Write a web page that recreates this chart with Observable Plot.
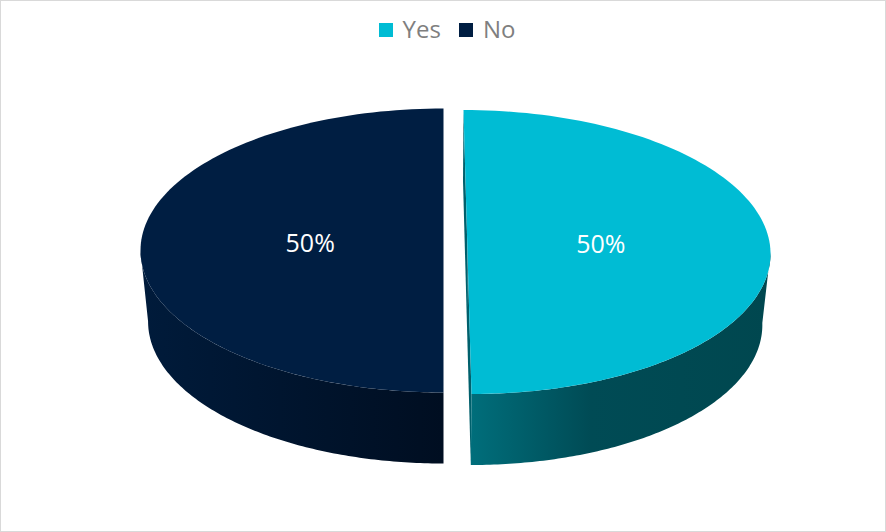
<!DOCTYPE html>
<html><head><meta charset="utf-8">
<script src="https://cdn.jsdelivr.net/npm/d3@7"></script>
<script src="https://cdn.jsdelivr.net/npm/@observablehq/plot@0.6"></script>
<style>
html,body{margin:0;padding:0;background:#fff;}
#wrap{position:relative;width:886px;height:532px;overflow:hidden;background:#fff;}
#frame{position:absolute;left:0;top:0;width:886px;height:532px;box-sizing:border-box;border:1px solid #d9d9d9;pointer-events:none;}
#legend{height:60px;display:flex;justify-content:center;align-items:center;padding-left:8px;padding-bottom:4px;box-sizing:border-box;font-family:"Open Sans",sans-serif;font-size:24px;color:#7f7f7f;}
.item{display:flex;align-items:center;margin:0 9px;}
.sw{width:14px;height:14px;margin-right:10px;position:relative;top:2px;}
#chart svg{display:block;}
</style></head><body>
<div id="wrap"><div id="legend"></div><div id="chart"></div><div id="frame"></div></div>
<script>
// ---- data ----
const categories = ["Yes", "No"];
const values = [50, 50];
const explodedCategory = "Yes";

// ---- styles ----
const topColors = ["#00BCD4", "#001E42"];
const cutColors = ["#00606C", "#000F24"];
const sideStops = [
  [[0, "#006E7B"], [0.4, "#004B55"], [1, "#00474F"]],
  [[0, "#001B3B"], [1, "#000E21"]]
];

// ---- legend ----
const legend = document.getElementById("legend");
categories.forEach((c, i) => {
  const it = document.createElement("div"); it.className = "item";
  const sw = document.createElement("div"); sw.className = "sw"; sw.style.background = topColors[i];
  const tx = document.createElement("span"); tx.textContent = c;
  it.appendChild(sw); it.appendChild(tx); legend.appendChild(it);
});

// ---- geometry (layout) ----
const W = 886, H = 472;
const cx = 443, cy = 190, rx = 303, ry = 142, depth = 71, bottomShrink = 0.975;
const explodeOffset = {dx0: 24, dx1: 4, dy: 1.5};
const noOffset = {dx0: 0, dx1: 0, dy: 0};

function proj(u, v, w, ex) {
  return {
    X: (u * rx + ex.dx0 + ex.dx1 * v) * (1 - (1 - bottomShrink) * w) / rx,
    Y: (v * ry + ex.dy + depth * w) / ry
  };
}
function arc(a0, a1, w, ex, n = 120) {
  const pts = [];
  for (let k = 0; k <= n; k++) {
    const t = a0 + (a1 - a0) * k / n;
    pts.push(proj(Math.sin(t), -Math.cos(t), w, ex));
  }
  return pts;
}

const total = d3.sum(values);
let acc = 0;
const slices = categories.map((c, i) => {
  const a0 = acc / total * 2 * Math.PI; acc += values[i];
  const a1 = acc / total * 2 * Math.PI;
  return {c, i, value: values[i], a0, a1, ex: c === explodedCategory ? explodeOffset : noOffset};
});

const marks = [];
// gradient defs
marks.push(() => {
  const defs = d3.create("svg:defs");
  sideStops.forEach((stops, i) => {
    const g = defs.append("linearGradient").attr("id", "side" + i)
      .attr("x1", 0).attr("x2", 1).attr("y1", 0).attr("y2", 0);
    stops.forEach(([o, col]) => g.append("stop").attr("offset", o).attr("stop-color", col));
  });
  return defs.node();
});

// cut faces
slices.forEach(s => {
  [s.a0, s.a1].forEach(a => {
    const u = Math.sin(a), v = -Math.cos(a);
    const pts = [proj(0, 0, 0, s.ex), proj(u, v, 0, s.ex), proj(u, v, 1, s.ex), proj(0, 0, 1, s.ex), proj(0, 0, 0, s.ex)];
    marks.push(Plot.line(pts, {x: "X", y: "Y", fill: cutColors[s.i], stroke: "none", curve: "linear"}));
  });
});
// outer sides (front half only)
slices.forEach(s => {
  const b0 = Math.max(s.a0, Math.PI / 2), b1 = Math.min(s.a1, 3 * Math.PI / 2);
  if (b1 <= b0) return;
  const pts = arc(b0, b1, 0, s.ex).concat(arc(b1, b0, 1, s.ex));
  pts.push(pts[0]);
  marks.push(Plot.line(pts, {x: "X", y: "Y", fill: `url(#side${s.i})`, stroke: "none", curve: "linear"}));
});
// top faces
slices.forEach(s => {
  const c0 = proj(0, 0, 0, s.ex);
  const pts = [c0].concat(arc(s.a0, s.a1, 0, s.ex), [c0]);
  marks.push(Plot.line(pts, {x: "X", y: "Y", fill: topColors[s.i], stroke: "none", curve: "linear"}));
});
// labels
const labels = slices.map(s => {
  const m = (s.a0 + s.a1) / 2;
  const p = proj(0.44 * Math.sin(m), -0.44 * Math.cos(m), 0, s.ex);
  return {...p, t: `${Math.round(s.value / total * 100)}%`};
});
marks.push(Plot.text(labels, {x: "X", y: "Y", text: "t", fill: "white", fontSize: 25, fontFamily: "Open Sans", dy: -7}));

const chart = Plot.plot({
  width: W, height: H,
  margin: 0,
  x: {type: "linear", domain: [-cx / rx, (W - cx) / rx], range: [0, W], axis: null},
  y: {type: "linear", domain: [-cy / ry, (H - cy) / ry], range: [0, H], axis: null},
  style: {background: "transparent", overflow: "visible"},
  marks
});
document.getElementById("chart").appendChild(chart);
</script>
</body></html>
